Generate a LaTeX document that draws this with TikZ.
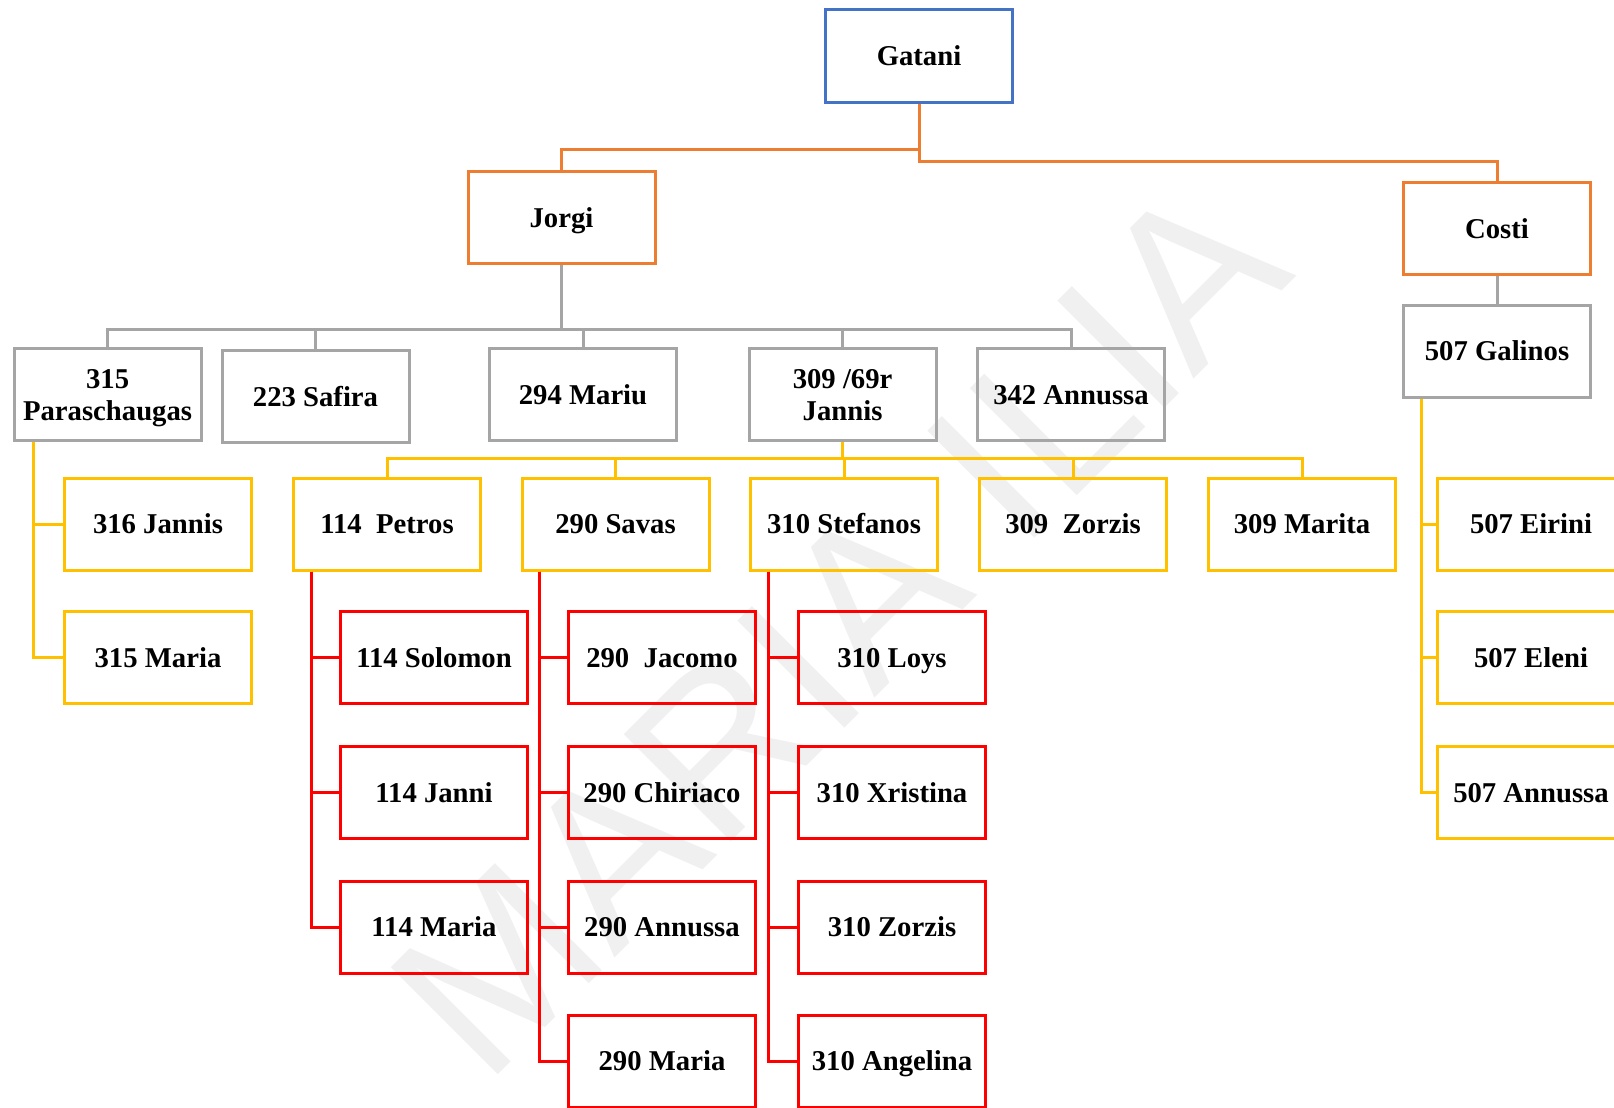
\documentclass[tikz,border=0pt]{standalone}
\usepackage{fontspec}
\setmainfont{Liberation Serif}
\newfontfamily\wmfont{Liberation Sans}
\definecolor{cblue}{HTML}{4472C4}
\definecolor{corange}{HTML}{ED7D31}
\definecolor{cgray}{HTML}{A5A5A5}
\definecolor{cyellow}{HTML}{FFC000}
\definecolor{cred}{HTML}{FF0000}
\definecolor{cwm}{HTML}{F0F0F0}
\begin{document}
\begin{tikzpicture}[x=1pt,y=-1pt,
  box/.style={draw, line width=3pt, minimum width=187pt, minimum height=92pt, inner sep=0pt, align=center, text height=19.5pt, text depth=0pt, font=\bfseries\fontsize{28.7}{32}\selectfont},
  twoline/.style={text height=51.5pt},
  bbox/.style={box, draw=cblue},
  obox/.style={box, draw=corange},
  gbox/.style={box, draw=cgray},
  ybox/.style={box, draw=cyellow},
  rbox/.style={box, draw=cred},
  oline/.style={draw=corange, line width=3pt},
  gline/.style={draw=cgray, line width=3pt},
  yline/.style={draw=cyellow, line width=3pt},
  rline/.style={draw=cred, line width=3pt},
  wm/.style={text=cwm, font=\wmfont\fontsize{220}{220}\selectfont, inner sep=0pt}
]
\useasboundingbox (0,0) rectangle (1614,1108);
\clip (0,0) rectangle (1614,1108);
\fill[white] (0,0) rectangle (1614,1108);

% watermark
\node[wm, rotate=45] (wmark) at (838,628) {MARIA ILIA};

% level 0/1
\node[bbox] (gat) at (919,56) {Gatani};
\node[obox] (jorgi) at (561.5,217.5) {Jorgi};
\node[obox] (costi) at (1497,228.5) {Costi};

% level 2
\node[gbox, twoline] (p315) at (107.6,394.5) {315\\Paraschaugas};
\node[gbox] (s223) at (315.5,396.5) {223 Safira};
\node[gbox] (m294) at (583,394.5) {294 Mariu};
\node[gbox, twoline] (j309) at (842.6,394.5) {309 /69r\\Jannis};
\node[gbox] (a342) at (1071,394.5) {342 Annussa};
\node[gbox] (g507) at (1497,351) {507 Galinos};

% level 3
\node[ybox] (j316) at (158,524) {316 Jannis};
\node[ybox] (p114) at (387,524) {114\ \ Petros};
\node[ybox] (s290) at (615.5,524) {290 Savas};
\node[ybox] (s310) at (844,524) {310 Stefanos};
\node[ybox] (z309) at (1073,524) {309\ \ Zorzis};
\node[ybox] (m309) at (1302,524) {309 Marita};
\node[ybox] (e507) at (1531,524) {507 Eirini};

\node[ybox] (m315) at (158,657.6) {315 Maria};
\node[ybox] (el507) at (1531,657.6) {507 Eleni};
\node[ybox] (an507) at (1531,792.5) {507 Annussa};

% level 4
\node[rbox] (sol114) at (434,657.6) {114 Solomon};
\node[rbox] (jan114) at (434,792.5) {114 Janni};
\node[rbox] (mar114) at (434,927) {114 Maria};

\node[rbox] (jac290) at (662,657.6) {290\ \ Jacomo};
\node[rbox] (chi290) at (662,792.5) {290 Chiriaco};
\node[rbox] (ann290) at (662,927) {290 Annussa};
\node[rbox] (mar290) at (662,1061) {290 Maria};

\node[rbox] (loy310) at (892,657.6) {310 Loys};
\node[rbox] (xri310) at (892,792.5) {310 Xristina};
\node[rbox] (zor310) at (892,927) {310 Zorzis};
\node[rbox] (ang310) at (892,1061) {310 Angelina};

% connectors
\draw[oline] (gat.south) -- ++(0,46) -| (jorgi.north);
\draw[oline] (gat.south) -- ++(0,58) -| (costi.north);

\foreach \c in {p315,s223,m294,j309,a342}
  \draw[gline] (jorgi.south) -- ++(0,64) -| (\c.north);
\draw[gline] (costi.south) -- (g507.north);

\foreach \c in {p114,s290,s310,z309,m309}
  \draw[yline] (j309.south) -- ++(0,16) -| (\c.north);

\foreach \c in {j316,m315}
  \draw[yline] ([xshift=21pt]p315.south west) |- (\c.west);
\foreach \c in {e507,el507,an507}
  \draw[yline] ([xshift=19pt]g507.south west) |- (\c.west);

\foreach \c in {sol114,jan114,mar114}
  \draw[rline] ([xshift=19pt]p114.south west) |- (\c.west);
\foreach \c in {jac290,chi290,ann290,mar290}
  \draw[rline] ([xshift=19pt]s290.south west) |- (\c.west);
\foreach \c in {loy310,xri310,zor310,ang310}
  \draw[rline] ([xshift=19pt]s310.south west) |- (\c.west);
\end{tikzpicture}
\end{document}
